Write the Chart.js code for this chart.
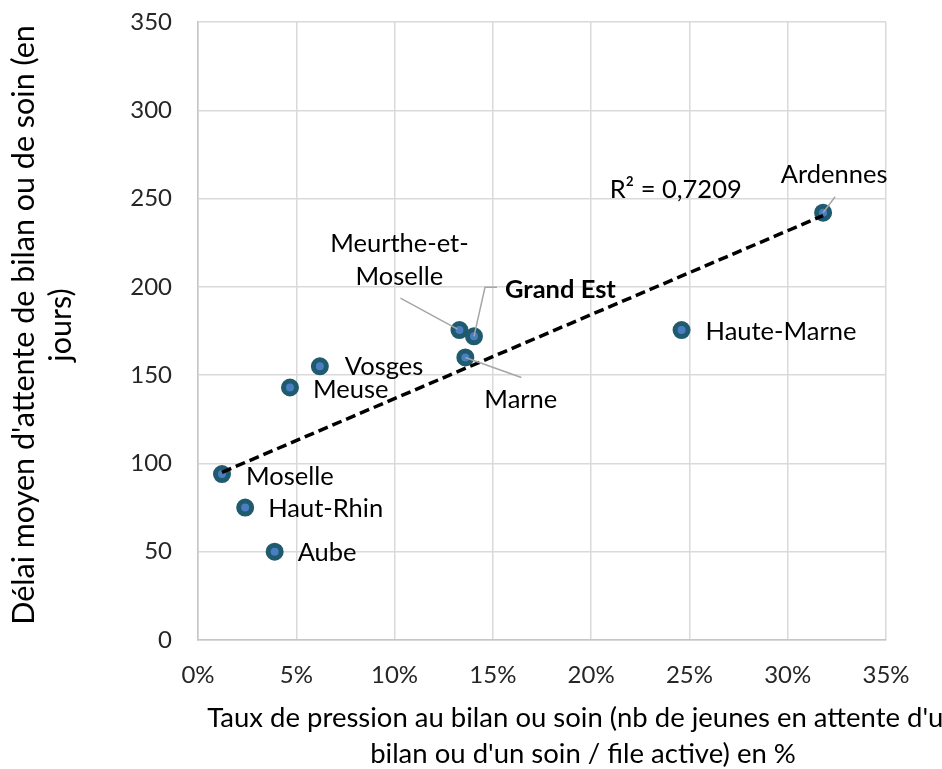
<!DOCTYPE html>
<html><head><meta charset="utf-8">
<script src="https://cdn.jsdelivr.net/npm/chart.js@4.4.1/dist/chart.umd.min.js"></script>
<style>html,body{margin:0;padding:0;background:#fff;} #wrap{width:942px;height:769px;position:relative;}</style>
</head><body><div id="wrap"><canvas id="c" width="942" height="769"></canvas></div>
<script>
// ---- data ----
const departements = ['Moselle','Haut-Rhin','Aube','Meuse','Vosges','Meurthe-et-Moselle','Grand Est','Marne','Haute-Marne','Ardennes'];
const tauxPression = [1.22, 2.4, 3.9, 4.68, 6.2, 13.3, 14.04, 13.6, 24.6, 31.8]; // en %
const delaiMoyen = [94, 75, 50, 143, 155, 175.5, 172, 160, 175.5, 242]; // jours
const xTickValues = [0, 5, 10, 15, 20, 25, 30, 35];
const yTickValues = [0, 50, 100, 150, 200, 250, 300, 350];
const r2Text = 'R² = 0,7209';
const xTitleLines = ["Taux de pression au bilan ou soin (nb de jeunes en attente d'un", "bilan ou d'un soin / file active) en %"];
const yTitleLines = ["Délai moyen d'attente de bilan ou de soin (en", "jours)"];

// ---- label placement (styles, pixel offsets from each point) ----
const labelStyle = {
  'Moselle': {dx: 24, dy: 3, align: 'left'},
  'Haut-Rhin': {dx: 23, dy: 1, align: 'left'},
  'Aube': {dx: 23, dy: 1, align: 'left'},
  'Meuse': {dx: 23, dy: 2, align: 'left'},
  'Vosges': {dx: 25, dy: 0, align: 'left'},
  'Haute-Marne': {dx: 24, dy: 2, align: 'left'},
  'Ardennes': {dx: 11, dy: -38, align: 'center', leader: [[12, -16], [0, 0]]},
  'Meurthe-et-Moselle': {dx: -60, dy: -86, align: 'center', lines: ['Meurthe-et-', 'Moselle'], lineGap: 33, leader: [[-59, -32], [-2, -1]]},
  'Grand Est': {dx: 31, dy: -47, align: 'left', bold: true, leader: [[0, 0], [11, -49], [23, -49]]},
  'Marne': {dx: 19, dy: 42, align: 'left', leader: [[0, 0], [56, 20]]}
};

const FONT = 'Lato, "Open Sans", sans-serif';
const FS_TICK = 24;
const FS_LABEL = 25.5;
const FS_TITLE = 27.5;
const FS_YTITLE = 30.5;
const TXT = '#262626';

// least-squares trend line, from min x to max x
const n = tauxPression.length;
const mx = tauxPression.reduce((a, b) => a + b, 0) / n;
const my = delaiMoyen.reduce((a, b) => a + b, 0) / n;
let sxy = 0, sxx = 0;
for (let i = 0; i < n; i++) { sxy += (tauxPression[i] - mx) * (delaiMoyen[i] - my); sxx += (tauxPression[i] - mx) ** 2; }
const slope = sxy / sxx, icpt = my - slope * mx;
const xMin = Math.min(...tauxPression), xMax = Math.max(...tauxPression);
const trendData = [{x: xMin, y: icpt + slope * xMin}, {x: xMax, y: icpt + slope * xMax}];

const pts = tauxPression.map((x, i) => ({x, y: delaiMoyen[i]}));

const labelsPlugin = {
  id: 'pointLabels',
  afterDatasetsDraw(chart) {
    const ctx = chart.ctx;
    const meta = chart.getDatasetMeta(1);
    ctx.save();
    meta.data.forEach((el, i) => {
      const st = labelStyle[departements[i]];
      if (!st || !st.leader) return;
      ctx.beginPath();
      ctx.strokeStyle = '#a6a6a6';
      ctx.lineWidth = 1.5;
      st.leader.forEach((p, k) => { const px = el.x + p[0], py = el.y + p[1]; k ? ctx.lineTo(px, py) : ctx.moveTo(px, py); });
      ctx.stroke();
    });
    meta.data.forEach((el, i) => {
      const name = departements[i];
      const st = labelStyle[name];
      if (!st) return;
      ctx.fillStyle = '#000';
      ctx.font = (st.bold ? 'bold ' : '') + FS_LABEL + 'px ' + FONT;
      ctx.textAlign = st.align;
      ctx.textBaseline = 'middle';
      const lines = st.lines || [name];
      lines.forEach((t, k) => ctx.fillText(t, el.x + st.dx, el.y + st.dy + k * (st.lineGap || 0)));
    });
    // R² label of the trend line
    const xs = chart.scales.x, ys = chart.scales.y;
    ctx.font = FS_LABEL + 'px ' + FONT;
    ctx.textAlign = 'center';
    ctx.fillText(r2Text, xs.getPixelForValue(24.3), ys.getPixelForValue(254.8));
    ctx.restore();
  },
  afterDraw(chart) {
    const ctx = chart.ctx;
    ctx.save();
    ctx.fillStyle = '#000';
    ctx.font = FS_TITLE + 'px ' + FONT;
    ctx.textAlign = 'center';
    ctx.textBaseline = 'alphabetic';
    ctx.fillText(xTitleLines[0], 583, 727);
    ctx.fillText(xTitleLines[1], 583, 763);
    ctx.font = FS_YTITLE + 'px ' + FONT;
    ctx.translate(0, 325);
    ctx.rotate(-Math.PI / 2);
    ctx.fillText(yTitleLines[0], 0, 34);
    ctx.fillText(yTitleLines[1], 0, 71);
    ctx.restore();
  }
};

new Chart(document.getElementById('c'), {
  data: {
    datasets: [
      {type: 'line', label: 'Tendance', data: trendData, borderColor: '#000', borderWidth: 3.5, borderDash: [10, 5], pointRadius: 0, fill: false, order: 0},
      {type: 'scatter', label: 'Départements', data: pts, backgroundColor: '#4a7ec2', borderColor: '#1f5a6e', borderWidth: 5, pointRadius: 6.5, pointHoverRadius: 6.5, order: 1}
    ]
  },
  options: {
    responsive: false,
    animation: false,
    devicePixelRatio: 1,
    layout: {padding: {top: 22, right: 56, left: 0, bottom: 0}},
    plugins: {legend: {display: false}, tooltip: {enabled: false}},
    scales: {
      x: {
        type: 'linear', min: 0, max: 35,
        afterBuildTicks: s => { s.ticks = xTickValues.map(v => ({value: v})); },
        afterFit: s => { s.height = 129; },
        grid: {color: '#d9d9d9', lineWidth: 1.5, drawTicks: false},
        border: {color: '#c6c6c6', width: 1.5},
        ticks: {padding: 21, color: TXT, font: {family: FONT, size: FS_TICK}, callback: v => v + '%', maxRotation: 0}
      },
      y: {
        type: 'linear', min: 0, max: 350,
        afterBuildTicks: s => { s.ticks = yTickValues.map(v => ({value: v})); },
        afterFit: s => { s.width = 198; s.paddingTop = 0; s.paddingBottom = 0; },
        grid: {color: '#d9d9d9', lineWidth: 1.5, drawTicks: false},
        border: {color: '#c6c6c6', width: 1.5},
        ticks: {padding: 26, color: TXT, font: {family: FONT, size: FS_TICK}}
      }
    }
  },
  plugins: [labelsPlugin]
});
</script>
</body></html>
